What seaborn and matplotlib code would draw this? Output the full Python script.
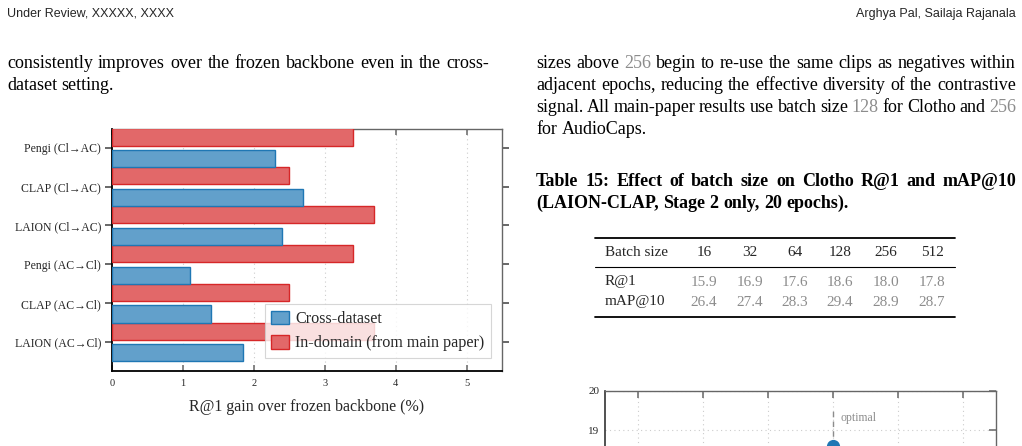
import numpy as np
import pandas as pd
import seaborn as sns
import matplotlib.pyplot as plt
from matplotlib.lines import Line2D
from matplotlib.patches import Patch

W, H, DPI = 1022, 446, 100

# left figure: R@1 gain over frozen backbone
pairs = ["Pengi (Cl→AC)", "CLAP (Cl→AC)", "LAION (Cl→AC)",
         "Pengi (AC→Cl)", "CLAP (AC→Cl)", "LAION (AC→Cl)"]
cross_gain = [2.3, 2.7, 2.4, 1.1, 1.4, 1.85]
indomain_gain = [3.4, 2.5, 3.7, 3.4, 2.5, 3.7]

# table 15 / bottom-right plot
batch_sizes = [16, 32, 64, 128, 256, 512]
r_at_1 = [15.9, 16.9, 17.6, 18.6, 18.0, 17.8]
map_at_10 = [26.4, 27.4, 28.3, 29.4, 28.9, 28.7]

SERIF = ["Liberation Serif", "DejaVu Serif"]
SANS_NARROW = ["Liberation Sans Narrow", "Liberation Sans", "DejaVu Sans"]
GRAY = "#8c8c8c"
BLUE, RED = "#1f77b4", "#d62728"


def light(c, a=0.7):
    rgb = np.array(plt.matplotlib.colors.to_rgb(c))
    return tuple(rgb * a + (1 - a))


def fx(x):
    return x / W


def fy(y):
    return 1 - y / H


sns.set_theme(style="white")
plt.rcParams["font.family"] = SERIF

fig = plt.figure(figsize=(W / DPI, H / DPI), dpi=DPI)
fig.patch.set_facecolor("white")
renderer = fig.canvas.get_renderer()


def put_line(words, x0, x1, y, size, weight="normal", justify=True):
    # words in [brackets] are grey (hyperlinked numbers in the paper)
    texts = []
    for w in words:
        color = GRAY if w.startswith("[") else "black"
        t = fig.text(0, fy(y), w.strip("[]"), fontsize=size, weight=weight,
                     color=color, va="baseline", ha="left")
        texts.append(t)
    widths = [t.get_window_extent(renderer).width for t in texts]
    space = size * DPI / 72 * 0.25
    if justify and len(words) > 1:
        space = max((x1 - x0 - sum(widths)) / (len(words) - 1), 2)
    x = x0
    for t, w in zip(texts, widths):
        t.set_x(fx(x))
        x += w + space


# header
fig.text(fx(7), fy(17), "Under Review, XXXXX, XXXX", family=SANS_NARROW,
         fontsize=9, va="baseline", ha="left")
fig.text(fx(1016), fy(17), "Arghya Pal, Sailaja Rajanala", family=SANS_NARROW,
         fontsize=9, va="baseline", ha="right")

BODY = 13
put_line("consistently improves over the frozen backbone even in the cross-".split(),
         7, 489, 68, BODY)
put_line("dataset setting.".split(), 7, 489, 90, BODY, justify=False)

put_line("sizes above [256] begin to re-use the same clips as negatives within".split(),
         536, 1016, 68, BODY)
put_line("adjacent epochs, reducing the effective diversity of the contrastive".split(),
         536, 1016, 90, BODY)
put_line("signal. All main-paper results use batch size [128] for Clotho and [256]".split(),
         536, 1016, 112, BODY)
put_line("for AudioCaps.".split(), 536, 1016, 134, BODY, justify=False)

put_line("Table 15: Effect of batch size on Clotho R@1 and mAP@10".split(),
         536, 1016, 186, BODY, weight="bold")
put_line("(LAION-CLAP, Stage 2 only, 20 epochs).".split(),
         536, 1016, 208, BODY, weight="bold", justify=False)

# table
TAB = 11
for y, lw in [(238, 1.3), (267, 0.8), (317, 1.3)]:
    fig.add_artist(Line2D([fx(595), fx(955)], [fy(y), fy(y)], color="black",
                          lw=lw, transform=fig.transFigure))
col_x = [704, 750, 795, 840, 886, 932]
fig.text(fx(605), fy(253), "Batch size", fontsize=TAB, va="center", ha="left")
fig.text(fx(605), fy(282), "R@1", fontsize=TAB, va="center", ha="left")
fig.text(fx(605), fy(302), "mAP@10", fontsize=TAB, va="center", ha="left")
for cx, b, r, m in zip(col_x, batch_sizes, r_at_1, map_at_10):
    fig.text(fx(cx), fy(253), str(b), fontsize=TAB, va="center", ha="center")
    fig.text(fx(cx), fy(282), f"{r:.1f}", fontsize=TAB, va="center", ha="center", color=GRAY)
    fig.text(fx(cx), fy(302), f"{m:.1f}", fontsize=TAB, va="center", ha="center", color=GRAY)

# ---- left bar chart ----
ax = fig.add_axes([fx(112), fy(371), (502 - 112) / W, (371 - 129) / H])
df = pd.DataFrame({
    "pair": pairs * 2,
    "setting": ["In-domain (from main paper)"] * len(pairs) + ["Cross-dataset"] * len(pairs),
    "gain": indomain_gain + cross_gain,
})
hue_order = ["In-domain (from main paper)", "Cross-dataset"]
pal = {"In-domain (from main paper)": light(RED), "Cross-dataset": light(BLUE)}
sns.barplot(data=df, y="pair", x="gain", hue="setting", hue_order=hue_order,
            order=pairs, palette=pal, saturation=1, width=1.1, gap=0.2,
            orient="h", ax=ax, legend=False, zorder=3)
for cont, ec in zip(ax.containers, [RED, BLUE]):
    for p in cont:
        p.set_edgecolor(ec)
        p.set_linewidth(1.0)

ax.set_xlim(0, 5.5)
ax.set_ylim(5.74, -0.48)
ax.set_xticks([0, 1, 2, 3, 4, 5])
ax.set_xticklabels(["0", "1", "2", "3", "4", "5"], fontsize=7.5)
ax.set_yticks(range(len(pairs)))
ax.set_yticklabels(pairs, fontsize=8.5)
ax.tick_params(axis="x", direction="in", top=True, bottom=True, length=4,
               color="#777777", pad=6)
ax.tick_params(axis="y", direction="out", left=True, right=True, length=5,
               color="#555555", pad=3)
ax.set_xlabel("R@1 gain over frozen backbone (%)", fontsize=11.5, labelpad=8)
ax.set_ylabel("")
ax.grid(axis="x", linestyle=(0, (1, 3)), color="#cccccc", lw=0.8, zorder=0)
ax.set_axisbelow(True)
for side in ["left", "bottom"]:
    ax.spines[side].set_color("black")
    ax.spines[side].set_linewidth(1.3)
for side in ["top", "right"]:
    ax.spines[side].set_color("#666666")
    ax.spines[side].set_linewidth(1.0)

handles = [Patch(facecolor=light(BLUE), edgecolor=BLUE, label="Cross-dataset"),
           Patch(facecolor=light(RED), edgecolor=RED, label="In-domain (from main paper)")]
leg = ax.legend(handles=handles, loc="lower right", bbox_to_anchor=(0.972, 0.054),
                borderaxespad=0, fontsize=11.6, frameon=True, fancybox=False,
                handlelength=1.1, handleheight=0.9, handletextpad=0.4,
                borderpad=0.4, labelspacing=0.5)
leg.get_frame().set_edgecolor("#cccccc")
leg.get_frame().set_linewidth(0.8)
leg.set_zorder(5)

# ---- bottom-right line chart (cut off by the page edge) ----
ax2 = fig.add_axes([fx(605), fy(391 + 5 * 39), (996 - 605) / W, 5 * 39 / H])
sns.lineplot(x=np.log2(batch_sizes), y=r_at_1, ax=ax2, color=BLUE, marker="o",
             markersize=9.5, markeredgewidth=0, lw=1.8, zorder=3)
ax2.plot([7, 7], [18.6, 19.5], color=GRAY, lw=1.0, ls=(0, (4, 3)), zorder=2)
ax2.text(7.12, 19.3, "optimal", color=GRAY, fontsize=8.5, va="center", ha="left")
ax2.set_xlim(3.5, 9.5)
ax2.set_ylim(15, 20)
ax2.set_xticks(np.log2(batch_sizes))
ax2.set_yticks([19, 20])
ax2.set_yticklabels(["19", "20"], fontsize=8)
ax2.tick_params(axis="both", direction="in", top=True, right=True, length=5,
                color="#777777", pad=4, labelbottom=False)
ax2.grid(True, linestyle=(0, (1, 3)), color="#cccccc", lw=0.8, zorder=0)
ax2.set_axisbelow(True)
for side in ["left", "bottom"]:
    ax2.spines[side].set_color("#333333")
    ax2.spines[side].set_linewidth(1.2)
for side in ["top", "right"]:
    ax2.spines[side].set_color("#666666")
    ax2.spines[side].set_linewidth(1.0)

fig.savefig("out.png", dpi=DPI)
